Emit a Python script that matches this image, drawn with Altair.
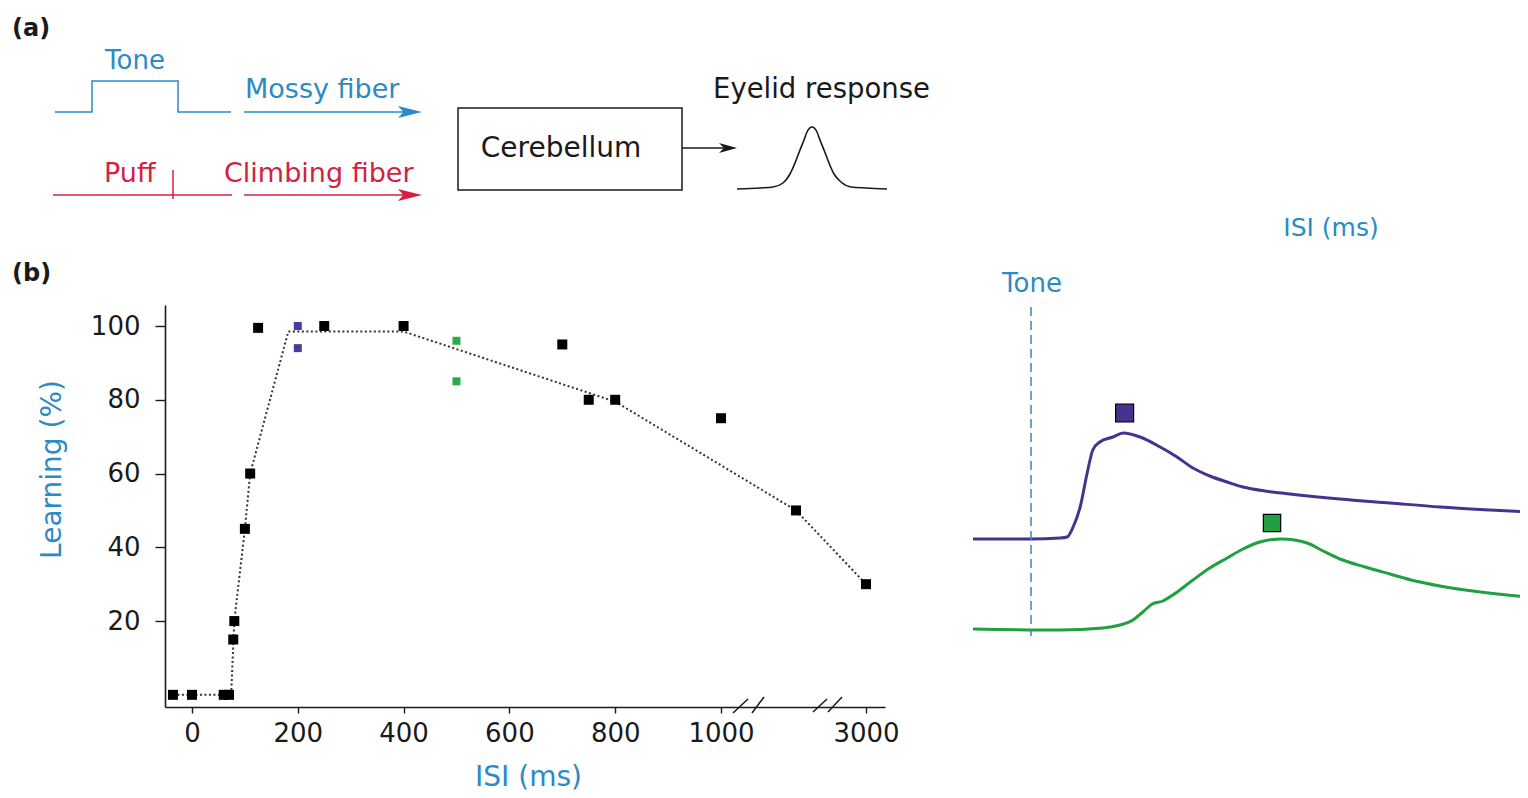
import altair as alt
import pandas as pd

# ---------------- panel (b), left: learning vs ISI ----------------
isi_black = [-36, 0, 60, 70, 78, 80, 100, 110, 125, 250, 400, 700, 750, 800, 1000, 2000, 3000]
learn_black = [0, 0, 0, 0, 15, 20, 45, 60, 99.5, 100, 100, 95, 80, 80, 75, 50, 30]
isi_purple = [200, 200]
learn_purple = [100, 94]
isi_green = [500, 500]
learn_green = [96, 85]
fit_isi = [-36, 74, 80, 100, 110, 182, 400, 800, 2000, 3000]
fit_learn = [0, 0, 20, 45, 60, 98.5, 98.5, 79.5, 50, 30]
x_ticks = [0, 200, 400, 600, 800, 1000, 3000]
y_ticks = [20, 40, 60, 80, 100]

# ---------------- panel (b), right: eyelid traces (time in ms from tone onset) ----------------
purple_t = [-124, 0, 62, 77, 90, 105, 120, 132, 147, 175, 197, 233, 276, 312, 346, 382, 419, 453,
            500, 553, 660, 767, 874, 981, 1062]
purple_amp = [0, 0, 1, 2, 12, 32, 66, 89, 97, 102, 106, 102, 92, 82, 71, 63, 57, 52,
              48, 45, 40, 36, 32, 29, 27]
green_t = [-124, 62, 154, 190, 218, 239, 259, 282, 303, 346, 382, 419, 453, 489, 536, 590, 624,
           660, 714, 767, 821, 874, 944, 1017, 1062]
green_amp = [0, -1, 1, 4, 9, 17, 25, 28, 34, 49, 61, 71, 80, 87, 90, 86, 78,
             70, 62, 55, 48, 43, 38, 34, 32]
us_purple_t, us_purple_amp = [200], [126]
us_green_t, us_green_amp = [515], [106]

# ---------------- panel (a): schematic (diagram units) ----------------
tone_wave_x = [55, 92, 92, 178, 178, 231]
tone_wave_y = [112, 112, 81, 81, 112, 112]
bell_x = [737, 760, 773, 783, 790, 795, 800, 804, 807, 812, 817, 820, 824, 829, 834, 841, 851, 866, 887]
bell_y = [189, 188, 187, 183, 174, 163, 150, 140, 132, 127, 132, 140, 150, 163, 174, 182, 187, 188, 189]

BLUE = "#2C8AC6"
RED = "#D5213F"
PURPLE = "#47328E"
GREEN = "#20A040"
INK = "#1a1a1a"
FONT = "DejaVu Sans"

W, H = 720, 402

# scales
sx = alt.Scale(domain=[-51, 1000, 2000, 3000, 3270], range=[0, 556, 631, 701, 720], nice=False, zero=False)
sy = alt.Scale(domain=[-3.3, 105.7], range=[H, 0], nice=False, zero=False)
tx = alt.Scale(domain=[-124, 1062], range=[808, 1363], nice=False, zero=False)
py_ = alt.Scale(domain=[0, 100], range=[234, 134], nice=False, zero=False)
gy_ = alt.Scale(domain=[0, 100], range=[324, 224], nice=False, zero=False)
cx_ = alt.Scale(domain=[0, 1528], range=[-165, 1363], nice=False, zero=False)
cy_ = alt.Scale(domain=[0, 798], range=[-305, 493], nice=False, zero=False)


def X(f, s, **kw):
    return alt.X(f, type="quantitative", scale=s, axis=kw.pop("axis", None), **kw)


def Y(f, s, **kw):
    return alt.Y(f, type="quantitative", scale=s, axis=kw.pop("axis", None), **kw)


def X2(f):
    return alt.X2(f)


def Y2(f):
    return alt.Y2(f)


# ---- scatter panel
black_df = pd.DataFrame({"isi": isi_black, "learn": learn_black})
purple_df = pd.DataFrame({"isi": isi_purple, "learn": learn_purple})
green_df = pd.DataFrame({"isi": isi_green, "learn": learn_green})
fit_df = pd.DataFrame({"isi": fit_isi, "learn": fit_learn, "i": range(len(fit_isi))})

x_axis = alt.Axis(values=x_ticks, format="d", title="ISI (ms)", grid=False, tickSize=6, labelPadding=7,
                  titleX=363, titleY=70, titleBaseline="middle", titleAlign="center")
y_axis = alt.Axis(values=y_ticks, format="d", title="Learning (%)", grid=False, tickSize=10, labelPadding=15,
                  titleX=-113, titleY=164, titleAngle=270, titleBaseline="middle", titleAlign="center")

fit = alt.Chart(fit_df).mark_line(color="#333333", strokeWidth=2, strokeDash=[2, 2.5]).encode(
    x=X("isi", sx), y=Y("learn", sy), order="i:Q")
blk = alt.Chart(black_df).mark_square(size=100, color="black", opacity=1).encode(
    x=X("isi", sx, axis=x_axis), y=Y("learn", sy, axis=y_axis))
pur = alt.Chart(purple_df).mark_square(size=64, color="#4B3C9A", opacity=1).encode(
    x=X("isi", sx), y=Y("learn", sy))
grn = alt.Chart(green_df).mark_square(size=64, color="#2AAA4A", opacity=1).encode(
    x=X("isi", sx), y=Y("learn", sy))

# axis break slashes (diagram units)
brk_df = pd.DataFrame({"x": [733, 752, 813, 828], "x2": [748, 764, 827, 842],
                       "y": [713, 713, 712, 712], "y2": [699, 697, 699, 697]})
brk = alt.Chart(brk_df).mark_rule(color=INK, strokeWidth=1.5).encode(
    x=X("x", cx_), x2=X2("x2"), y=Y("y", cy_), y2=Y2("y2"))

# ---- traces panel
ptr_df = pd.DataFrame({"t": purple_t, "a": purple_amp})
gtr_df = pd.DataFrame({"t": green_t, "a": green_amp})
ptr = alt.Chart(ptr_df).mark_line(color=PURPLE, strokeWidth=3, interpolate="monotone").encode(
    x=X("t", tx), y=Y("a", py_))
gtr = alt.Chart(gtr_df).mark_line(color=GREEN, strokeWidth=3, interpolate="monotone").encode(
    x=X("t", tx), y=Y("a", gy_))
pus = alt.Chart(pd.DataFrame({"t": us_purple_t, "a": us_purple_amp})).mark_square(
    size=324, color=PURPLE, opacity=1, stroke="black", strokeWidth=1.2).encode(
    x=X("t", tx), y=Y("a", py_))
gus = alt.Chart(pd.DataFrame({"t": us_green_t, "a": us_green_amp})).mark_square(
    size=300, color=GREEN, opacity=1, stroke="black", strokeWidth=1.2).encode(
    x=X("t", tx), y=Y("a", gy_))
tone_line = alt.Chart(pd.DataFrame({"t": [0], "y": [307], "y2": [636]})).mark_rule(
    color=BLUE, strokeWidth=1.5, strokeDash=[9, 5]).encode(
    x=X("t", tx), y=Y("y", cy_), y2=Y2("y2"))

# ---- schematic panel (a)
tw_df = pd.DataFrame({"x": tone_wave_x, "y": tone_wave_y, "i": range(len(tone_wave_x))})
tone_wave = alt.Chart(tw_df).mark_line(color=BLUE, strokeWidth=1.5).encode(
    x=X("x", cx_), y=Y("y", cy_), order="i:Q")

seg_df = pd.DataFrame({
    "x": [53, 173, 244, 244, 682],
    "x2": [232, 173, 412, 412, 724],
    "y": [195, 170, 112, 195, 148],
    "y2": [195, 199, 112, 195, 148],
    "c": [RED, RED, BLUE, RED, INK],
})
segs = alt.Chart(seg_df).mark_rule(strokeWidth=1.5).encode(
    x=X("x", cx_), x2=X2("x2"), y=Y("y", cy_), y2=Y2("y2"),
    color=alt.Color("c:N", scale=None))

arrow_path = "M -1 -0.5 L 1 0 L -1 0.5 L -0.55 0 Z"
head_df = pd.DataFrame({"x": [410, 410], "y": [112, 195], "c": [BLUE, RED]})
heads = alt.Chart(head_df).mark_point(shape=arrow_path, filled=True, size=576, opacity=1,
                                      strokeWidth=0).encode(
    x=X("x", cx_), y=Y("y", cy_), color=alt.Color("c:N", scale=None))
head2 = alt.Chart(pd.DataFrame({"x": [728], "y": [148]})).mark_point(
    shape="M -1 -0.55 L 1 0 L -1 0.55 L -0.45 0 Z", filled=True, size=324, opacity=1,
    strokeWidth=0, color=INK).encode(x=X("x", cx_), y=Y("y", cy_))

box = alt.Chart(pd.DataFrame({"x": [458], "x2": [682], "y": [108], "y2": [190]})).mark_rect(
    fill="transparent", stroke=INK, strokeWidth=1.5).encode(
    x=X("x", cx_), x2=X2("x2"), y=Y("y", cy_), y2=Y2("y2"))

bell_df = pd.DataFrame({"x": bell_x, "y": bell_y, "i": range(len(bell_x))})
bell = alt.Chart(bell_df).mark_line(color=INK, strokeWidth=1.6, interpolate="monotone").encode(
    x=X("x", cx_), y=Y("y", cy_), order="i:Q")

# ---- texts
center_txt = pd.DataFrame({
    "text": ["Tone", "Cerebellum", "Tone", "ISI (ms)"],
    "x": [135, 561, 1032, 1331],
    "y": [61, 149, 284, 228],
    "c": [BLUE, INK, BLUE, BLUE],
    "s": [26, 28, 26, 25],
})
left_txt = pd.DataFrame({
    "text": ["Mossy fiber", "Puff", "Climbing fiber", "Eyelid response"],
    "x": [245, 104, 224, 713],
    "y": [90, 174, 174, 90],
    "c": [BLUE, RED, RED, INK],
    "s": [27, 27, 27, 27.5],
})
bold_txt = pd.DataFrame({"text": ["(a)", "(b)"], "x": [12, 12], "y": [29, 274]})

t_center = alt.Chart(center_txt).mark_text(font=FONT, align="center", baseline="middle").encode(
    x=X("x", cx_), y=Y("y", cy_), text="text:N",
    color=alt.Color("c:N", scale=None), size=alt.Size("s:Q", scale=None))
t_left = alt.Chart(left_txt).mark_text(font=FONT, align="left", baseline="middle").encode(
    x=X("x", cx_), y=Y("y", cy_), text="text:N",
    color=alt.Color("c:N", scale=None), size=alt.Size("s:Q", scale=None))
t_bold = alt.Chart(bold_txt).mark_text(font=FONT, align="left", baseline="middle", fontSize=24,
                                       fontWeight="bold", color=INK).encode(
    x=X("x", cx_), y=Y("y", cy_), text="text:N")

chart = alt.layer(
    fit, blk, pur, grn, brk,
    ptr, gtr, pus, gus, tone_line,
    tone_wave, segs, heads, head2, box, bell,
    t_center, t_left, t_bold,
).resolve_scale(
    x="independent", y="independent", color="independent", size="independent"
).properties(
    width=W, height=H,
    autosize=alt.AutoSizeParams(type="none"),
    padding={"left": 157, "top": 297, "right": 635, "bottom": 88},
).configure_view(stroke=None).configure_axis(
    labelFont=FONT, labelFontSize=26, labelColor=INK,
    titleFont=FONT, titleFontSize=28, titleColor=BLUE, titleFontWeight="normal",
    domainColor=INK, domainWidth=1.6, tickColor=INK, tickWidth=1.4,
)

chart.save("out.html", embed_options={"renderer": "svg", "actions": False})
